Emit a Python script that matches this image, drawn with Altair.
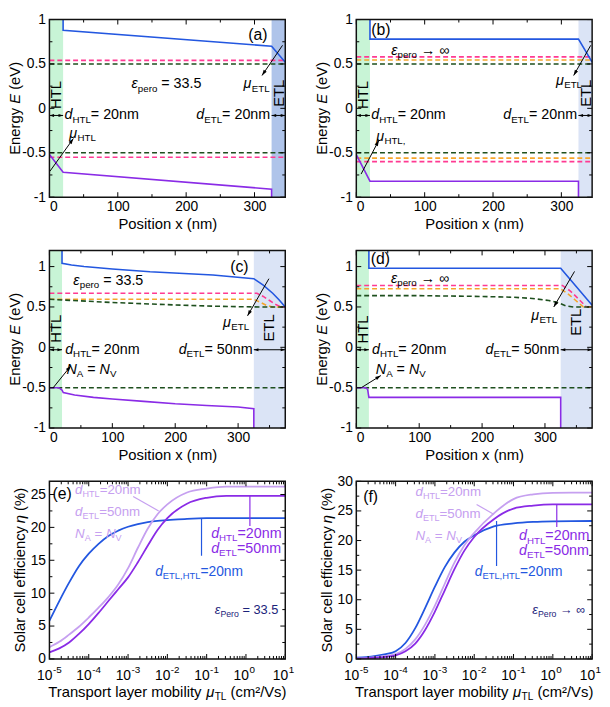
import math
import altair as alt

FONT = "Liberation Sans"
BLUE = "#2357e0"
PURPLE = "#8a2be6"
LPURPLE = "#c6a0f0"
PINK = "#ff3a92"
ORANGE = "#f5a52a"
GREEN = "#1e4f1e"
NAVY = "#1c237a"
HTL_FILL = "#c8f4d6"
ETL_FILL_A = "#afc4ea"
ETL_FILL = "#dbe4f6"

W = 239
H = 180
SUB = 0.68
ARROW = "M0,0L0.55,1.7L-0.55,1.7Z"

# ---------------- data ----------------
# (a) eps = 33.5, d_ETL = 20 nm
a_cb_x = [20, 20, 325, 345]
a_cb_y = [1.0, 0.88, 0.70, 0.52]
a_vb_x = [0, 20, 325, 325]
a_vb_y = [-0.52, -0.72, -0.91, -1.0]
a_pink = [0.54, -0.55]
a_green = [0.50, -0.50]

# (b) eps -> inf, d_ETL = 20 nm
b_cb_x = [20, 20, 325, 345]
b_cb_y = [1.0, 0.78, 0.78, 0.52]
b_vb_x = [0, 20, 325, 325]
b_vb_y = [-0.52, -0.82, -0.82, -1.0]
b_pink = [0.58, -0.60]
b_orange = [0.545, -0.56]
b_green = [0.50, -0.50]

# (c) eps = 33.5, d_ETL = 50 nm
c_cb_x = [20, 20, 35, 55, 100, 160, 260, 325, 340, 355, 365, 375]
c_cb_y = [1.2, 1.04, 1.02, 1.0, 0.97, 0.935, 0.895, 0.85, 0.77, 0.67, 0.59, 0.50]
c_vb_x = [0, 15, 20, 22, 40, 70, 100, 150, 200, 250, 300, 325, 325]
c_vb_y = [-0.5, -0.5, -0.53, -0.56, -0.59, -0.62, -0.64, -0.67, -0.70, -0.72, -0.74, -0.76, -1.0]
c_pink_x = [0, 330, 340, 350, 360, 368, 375]
c_pink_y = [0.67, 0.67, 0.63, 0.58, 0.53, 0.50, 0.50]
c_orange_x = [0, 325, 335, 345, 355, 375]
c_orange_y = [0.595, 0.595, 0.56, 0.52, 0.50, 0.50]
c_green_x = [0, 50, 100, 150, 200, 250, 300, 340, 375]
c_green_y = [0.595, 0.575, 0.555, 0.54, 0.525, 0.512, 0.503, 0.50, 0.50]
c_green_low = -0.50

# (d) eps -> inf, d_ETL = 50 nm
d_cb_x = [20, 20, 325, 375]
d_cb_y = [1.2, 0.98, 0.98, 0.52]
d_vb_x = [0, 15, 18, 20, 325, 325]
d_vb_y = [-0.5, -0.5, -0.52, -0.62, -0.62, -1.0]
d_pink_x = [0, 328, 340, 352, 366, 375]
d_pink_y = [0.765, 0.765, 0.70, 0.61, 0.50, 0.50]
d_orange_x = [0, 325, 337, 349, 361, 375]
d_orange_y = [0.725, 0.725, 0.66, 0.58, 0.50, 0.50]
d_green_x = [0, 100, 200, 250, 280, 306, 320, 333, 345, 375]
d_green_y = [0.64, 0.64, 0.63, 0.62, 0.605, 0.58, 0.555, 0.515, 0.50, 0.50]
d_green_low = -0.50

# (e), (f) efficiency vs transport-layer mobility
mu = [1e-5, 1.78e-5, 3.16e-5, 5.62e-5, 1e-4, 1.78e-4, 3.16e-4, 5.62e-4, 1e-3,
      1.78e-3, 3.16e-3, 5.62e-3, 1e-2, 3.16e-2, 1e-1, 3.16e-1, 1.0, 10.0]
e_blue = [5.8, 8.8, 11.6, 14.1, 16.0, 17.5, 18.7, 19.5, 20.1, 20.5, 20.8, 21.0, 21.1, 21.3, 21.4, 21.4, 21.4, 21.4]
e_light = [1.8, 2.6, 3.7, 4.9, 6.3, 7.8, 9.4, 11.3, 13.8, 16.9, 19.8, 22.0, 23.5, 25.3, 25.9, 26.2, 26.2, 26.2]
e_dark = [1.0, 1.6, 2.5, 3.8, 5.3, 7.0, 8.8, 10.6, 12.4, 14.7, 17.2, 19.6, 21.4, 23.6, 24.5, 24.8, 24.8, 24.8]
f_blue = [0.2, 0.3, 0.5, 0.8, 1.3, 2.7, 5.2, 8.6, 12.2, 15.5, 18.0, 19.8, 20.9, 22.4, 22.9, 23.15, 23.25, 23.3]
f_light = [0.1, 0.15, 0.3, 0.5, 0.8, 1.7, 3.3, 5.8, 9.0, 12.7, 16.3, 19.2, 21.3, 24.6, 27.0, 27.8, 28.05, 28.1]
f_dark = [0.05, 0.1, 0.2, 0.35, 0.6, 1.3, 2.6, 4.9, 8.0, 11.6, 15.2, 18.3, 20.6, 23.6, 25.4, 25.9, 26.1, 26.1]

log_major = [1e-5, 1e-4, 1e-3, 1e-2, 1e-1, 1.0, 10.0]
log_exp = ["-5", "-4", "-3", "-2", "-1", "0", "1"]
log_minor = [k * 10.0 ** d for d in range(-5, 1) for k in range(2, 10)]

pos_ticks = [0, 100, 200, 300]
energy_ticks = [-1, -0.5, 0, 0.5, 1]

# ---------------- helpers ----------------
AW = {' ': 278, '.': 278, ',': 278, '=': 584, '(': 333, ')': 333, '-': 333, '/': 278,
      '%': 889, '\u00b2': 333, 'A': 667, 'E': 667, 'H': 722, 'L': 556, 'N': 722, 'P': 667, 'T': 611,
      'V': 667, 'a': 556, 'b': 556, 'c': 500, 'd': 556, 'e': 556, 'f': 278, 'g': 556, 'i': 222,
      'l': 222, 'm': 833, 'n': 556, 'o': 556, 'p': 556, 'r': 333, 's': 500, 't': 278, 'x': 500,
      'y': 500, 'u': 556, 'v': 500, '\u03bc': 577, '\u03b5': 446, '\u03b7': 556, '\u2192': 1000,
      '\u221e': 713}
for _c in "0123456789":
    AW[_c] = 556


def tw(s, size):
    return sum(AW.get(c, 556) for c in s) * size / 1000.0


def rich(parts, xenc, yenc, datum, size, color, align, angle):
    sizes = [size * SUB if st in ("sub", "sup") else size for _, st in parts]
    widths = [tw(t, s) for (t, _), s in zip(parts, sizes)]
    total = sum(widths)
    off = {"left": 0.0, "center": -total / 2.0, "right": -total}[align]
    out = []
    for (t, st), s, w in zip(parts, sizes, widths):
        dy = 0.3 * size if st == "sub" else (-0.38 * size if st == "sup" else 0.0)
        lead = t[:len(t) - len(t.lstrip(" "))]
        shown = t.strip(" ")
        d = dict(datum)
        d["t"] = shown
        out.append(alt.Chart(alt.Data(values=[d])).mark_text(
            align="left", baseline="middle", dx=round(off + tw(lead, s), 2), dy=round(dy, 2),
            fontSize=round(s, 2), fontStyle="italic" if st == "i" else "normal", font=FONT,
            color=color, angle=angle
        ).encode(x=xenc, y=yenc, text="t:N"))
        off += w
    return out


def yaxis(vals):
    return alt.Axis(values=vals, labelExpr="'' + datum.value", ticks=False, tickSize=0, domain=False,
                    grid=False, labelFont=FONT, labelFontSize=14, labelColor="black", labelPadding=4, title=None)


def xaxis_pos():
    return alt.Axis(values=pos_ticks, labelExpr="'' + datum.value", ticks=False, tickSize=0,
                    domain=False, grid=False, labelFont=FONT, labelFontSize=14, labelColor="black",
                    labelPadding=3, title="Position x (nm)", titleFont=FONT, titleFontSize=15,
                    titleFontWeight="normal", titleColor="black", titlePadding=3)


class Panel:
    def __init__(self, xdom, ydom, xaxis, yaxis_, xlog=False):
        self.xdom, self.ydom, self.xlog = xdom, ydom, xlog
        self.xs = alt.Scale(type="log" if xlog else "linear", domain=xdom, nice=False, zero=False)
        self.ys = alt.Scale(domain=ydom, nice=False, zero=False)
        self.xaxis, self.yaxis = xaxis, yaxis_
        self.L = []

    def X(self):
        return alt.X("x:Q", scale=self.xs, axis=self.xaxis)

    def Y(self):
        return alt.Y("y:Q", scale=self.ys, axis=self.yaxis)

    def pix(self, x, y):
        if self.xlog:
            fx = (math.log10(x) - math.log10(self.xdom[0])) / (math.log10(self.xdom[1]) - math.log10(self.xdom[0]))
        else:
            fx = (x - self.xdom[0]) / (self.xdom[1] - self.xdom[0])
        fy = (y - self.ydom[0]) / (self.ydom[1] - self.ydom[0])
        return fx * W, (1 - fy) * H

    def band(self, x0, x1, color):
        self.L.append(alt.Chart(alt.Data(values=[{"x": x0, "x2": x1}])).mark_rect(color=color).encode(
            x=self.X(), x2="x2:Q", y=alt.value(0), y2=alt.value(H)))

    def line(self, xs, ys, color, width=1.6, dash=None, interp="linear"):
        vals = [{"x": a, "y": b, "o": i} for i, (a, b) in enumerate(zip(xs, ys))]
        kw = dict(color=color, strokeWidth=width, clip=True, interpolate=interp)
        if dash:
            kw["strokeDash"] = dash
        self.L.append(alt.Chart(alt.Data(values=vals)).mark_line(**kw).encode(
            x=self.X(), y=self.Y(), order="o:Q"))

    def arrow(self, x1, y1, x2, y2, heads=("end",), color="black", width=1.0, hs=45):
        self.line([x1, x2], [y1, y2], color, width)
        p1, p2 = self.pix(x1, y1), self.pix(x2, y2)
        for h in heads:
            if h == "end":
                tip, frm, pt = p2, p1, (x2, y2)
            else:
                tip, frm, pt = p1, p2, (x1, y1)
            ang = math.degrees(math.atan2(tip[0] - frm[0], -(tip[1] - frm[1]))) % 360
            self.L.append(alt.Chart(alt.Data(values=[{"x": pt[0], "y": pt[1]}])).mark_point(
                shape=ARROW, filled=True, size=hs, angle=round(ang, 2), color=color, opacity=1, strokeWidth=0
            ).encode(x=self.X(), y=self.Y()))

    def text(self, x, y, parts, size=14.5, color="black", align="left", angle=0):
        self.L += rich(parts, self.X(), self.Y(), {"x": x, "y": y}, size, color, align, angle)

    def ptext(self, px, py, parts, size=15, color="black", align="center", angle=0):
        self.L += rich(parts, alt.value(px), alt.value(py), {}, size, color, align, angle)

    def ticks(self, xmaj, xmin, ymaj, ymin):
        for vals, lg in ((xmaj, 5), (xmin, 3)):
            d = alt.Data(values=[{"x": v} for v in vals])
            self.L.append(alt.Chart(d).mark_rule(color="black", strokeWidth=1).encode(
                x=self.X(), y=alt.value(H), y2=alt.value(H - lg)))
            self.L.append(alt.Chart(d).mark_rule(color="black", strokeWidth=1).encode(
                x=self.X(), y=alt.value(0), y2=alt.value(lg)))
        for vals, lg in ((ymaj, 5), (ymin, 3)):
            d = alt.Data(values=[{"y": v} for v in vals])
            self.L.append(alt.Chart(d).mark_rule(color="black", strokeWidth=1).encode(
                y=self.Y(), x=alt.value(0), x2=alt.value(lg)))
            self.L.append(alt.Chart(d).mark_rule(color="black", strokeWidth=1).encode(
                y=self.Y(), x=alt.value(W), x2=alt.value(W - lg)))

    def chart(self):
        frame = alt.Chart(alt.Data(values=[{"f": 1}])).mark_rect(
            filled=False, stroke="#111111", strokeWidth=1.5
        ).encode(x=alt.value(0), x2=alt.value(W), y=alt.value(0), y2=alt.value(H))
        return alt.layer(*self.L, frame).properties(width=W, height=H)


DASH = [5, 3]
Y_E = [("Energy ", "n"), ("E", "i"), (" (eV)", "n")]
Y_ETA = [("Solar cell efficiency ", "n"), ("\u03b7", "i"), (" (%)", "n")]
X_MU = [("Transport layer mobility ", "n"), ("\u03bc", "i"), ("TL", "sub"), (" (cm\u00b2/Vs)", "n")]


def energy_panel(xmax, ydom):
    p = Panel([0, xmax], ydom, xaxis_pos(), yaxis(energy_ticks))
    p.ptext(-35, H / 2, Y_E, size=15, angle=270)
    return p


def dual_arrow(p, x0, x1, y):
    p.arrow(x0, y, x1, y, heads=("start", "end"), hs=30)


# ---------------- (a) ----------------
pa = energy_panel(345, [-1, 1])
pa.band(0, 20, HTL_FILL)
pa.band(325, 345, ETL_FILL_A)
for v in a_pink:
    pa.line([0, 345], [v, v], PINK, dash=DASH)
for v in a_green:
    pa.line([0, 345], [v, v], GREEN, dash=DASH)
pa.line(a_cb_x, a_cb_y, BLUE)
pa.line(a_vb_x, a_vb_y, PURPLE)
pa.text(305, 0.82, [("(a)", "n")], size=16, align="center")
pa.text(10, 0.15, [("HTL", "n")], size=15, align="center", angle=270)
pa.text(336, 0.17, [("ETL", "n")], size=15, align="center", angle=270)
pa.text(120, 0.27, [("\u03b5", "i"), ("pero", "sub"), (" = 33.5", "n")])
pa.text(284, 0.27, [("\u03bc", "i"), ("ETL", "sub")])
pa.arrow(341, 0.71, 311, 0.37)
pa.text(29, -0.29, [("\u03bc", "i"), ("HTL", "sub")])
pa.arrow(0.5, -0.71, 35, -0.34)
pa.text(22, -0.08, [("d", "i"), ("HTL", "sub"), ("= 20nm", "n")])
dual_arrow(pa, 0, 20, -0.08)
pa.text(323, -0.08, [("d", "i"), ("ETL", "sub"), ("= 20nm", "n")], align="right")
dual_arrow(pa, 325, 345, -0.08)
pa.ticks(pos_ticks, [50, 150, 250], energy_ticks, [-0.75, -0.25, 0.25, 0.75])

# ---------------- (b) ----------------
pb = energy_panel(345, [-1, 1])
pb.band(0, 20, HTL_FILL)
pb.band(325, 345, ETL_FILL)
for v in b_pink:
    pb.line([0, 345], [v, v], PINK, dash=DASH)
for v in b_orange:
    pb.line([0, 345], [v, v], ORANGE, dash=DASH)
for v in b_green:
    pb.line([0, 345], [v, v], GREEN, dash=DASH)
pb.line(b_cb_x, b_cb_y, BLUE)
pb.line(b_vb_x, b_vb_y, PURPLE)
pb.text(22, 0.88, [("(b)", "n")], size=16)
pb.text(10, 0.15, [("HTL", "n")], size=15, align="center", angle=270)
pb.text(336, 0.17, [("ETL", "n")], size=15, align="center", angle=270)
pb.text(51, 0.65, [("\u03b5", "i"), ("pero", "sub"), (" \u2192 \u221e", "n")])
pb.text(292, 0.31, [("\u03bc", "i"), ("ETL", "sub")])
pb.arrow(343, 0.71, 318, 0.37)
pb.text(29, -0.32, [("\u03bc", "i"), ("HTL,", "sub")])
pb.arrow(7, -0.74, 33, -0.36)
pb.text(22, -0.08, [("d", "i"), ("HTL", "sub"), ("= 20nm", "n")])
dual_arrow(pb, 0, 20, -0.08)
pb.text(323, -0.08, [("d", "i"), ("ETL", "sub"), ("= 20nm", "n")], align="right")
dual_arrow(pb, 325, 345, -0.08)
pb.ticks(pos_ticks, [50, 150, 250], energy_ticks, [-0.75, -0.25, 0.25, 0.75])

# ---------------- (c) ----------------
pc = energy_panel(375, [-1, 1.2])
pc.band(0, 20, HTL_FILL)
pc.band(325, 375, ETL_FILL)
pc.line(c_pink_x, c_pink_y, PINK, dash=DASH)
pc.line(c_orange_x, c_orange_y, ORANGE, dash=DASH)
pc.line(c_green_x, c_green_y, GREEN, dash=DASH)
pc.line([0, 375], [c_green_low, c_green_low], GREEN, dash=DASH)
pc.line(c_cb_x, c_cb_y, BLUE)
pc.line(c_vb_x, c_vb_y, PURPLE)
pc.text(302, 1.0, [("(c)", "n")], size=16, align="center")
pc.text(10, 0.23, [("HTL", "n")], size=15, align="center", angle=270)
pc.text(350, 0.24, [("ETL", "n")], size=15, align="center", angle=270)
pc.text(38, 0.82, [("\u03b5", "i"), ("pero", "sub"), (" = 33.5", "n")])
pc.text(276, 0.30, [("\u03bc", "i"), ("ETL", "sub")])
pc.arrow(349, 0.85, 315, 0.39)
pc.text(25, -0.03, [("d", "i"), ("HTL", "sub"), ("= 20nm", "n")])
dual_arrow(pc, 0, 20, -0.03)
pc.text(323, -0.03, [("d", "i"), ("ETL", "sub"), ("= 50nm", "n")], align="right")
dual_arrow(pc, 325, 375, -0.03)
pc.text(27, -0.28, [("N", "i"), ("A", "sub"), (" = ", "n"), ("N", "i"), ("V", "sub")])
pc.arrow(6, -0.5, 34, -0.23)
pc.ticks(pos_ticks, [50, 150, 250, 350], energy_ticks, [-0.75, -0.25, 0.25, 0.75])

# ---------------- (d) ----------------
pd_ = energy_panel(375, [-1, 1.2])
pd_.band(0, 20, HTL_FILL)
pd_.band(325, 375, ETL_FILL)
pd_.line(d_pink_x, d_pink_y, PINK, dash=DASH)
pd_.line(d_orange_x, d_orange_y, ORANGE, dash=DASH)
pd_.line(d_green_x, d_green_y, GREEN, dash=DASH)
pd_.line([0, 375], [d_green_low, d_green_low], GREEN, dash=DASH)
pd_.line(d_cb_x, d_cb_y, BLUE)
pd_.line(d_vb_x, d_vb_y, PURPLE)
pd_.text(23, 1.09, [("(d)", "n")], size=16)
pd_.text(10, 0.22, [("HTL", "n")], size=15, align="center", angle=270)
pd_.text(350, 0.31, [("ETL", "n")], size=15, align="center", angle=270)
pd_.text(55, 0.85, [("\u03b5", "i"), ("pero", "sub"), (" \u2192 \u221e", "n")])
pd_.text(278, 0.39, [("\u03bc", "i"), ("ETL", "sub")])
pd_.arrow(347, 0.94, 314, 0.50)
pd_.text(25, -0.03, [("d", "i"), ("HTL", "sub"), ("= 20nm", "n")])
dual_arrow(pd_, 0, 20, -0.03)
pd_.text(323, -0.03, [("d", "i"), ("ETL", "sub"), ("= 50nm", "n")], align="right")
dual_arrow(pd_, 325, 375, -0.03)
pd_.text(31, -0.28, [("N", "i"), ("A", "sub"), (" = ", "n"), ("N", "i"), ("V", "sub")])
pd_.arrow(8, -0.5, 39, -0.35)
pd_.ticks(pos_ticks, [50, 150, 250, 350], energy_ticks, [-0.75, -0.25, 0.25, 0.75])


# ---------------- (e), (f) ----------------
def eff_panel(ymax, ymaj):
    p = Panel([1e-5, 10], [0, ymax], None, yaxis(ymaj), xlog=True)
    p.ptext(-30, H / 2, Y_ETA, size=15, angle=270)
    p.ptext(W / 2, H + 34, X_MU, size=15)
    lab = alt.Data(values=[{"x": v, "t": "10", "e": e} for v, e in zip(log_major, log_exp)])
    p.L.append(alt.Chart(lab).mark_text(align="right", baseline="middle", dx=3, fontSize=14, font=FONT,
                                        color="black").encode(x=p.X(), y=alt.value(H + 17), text="t:N"))
    p.L.append(alt.Chart(lab).mark_text(align="left", baseline="middle", dx=3.5, fontSize=10, font=FONT,
                                        color="black").encode(x=p.X(), y=alt.value(H + 11), text="e:N"))
    return p


DH = [("d", "i"), ("HTL", "sub"), ("=20nm", "n")]
DE = [("d", "i"), ("ETL", "sub"), ("=50nm", "n")]
NANV = [("N", "i"), ("A", "sub"), (" = ", "n"), ("N", "i"), ("V", "sub")]
DEH = [("d", "i"), ("ETL,HTL", "sub"), ("=20nm", "n")]

e_yt = [0, 5, 10, 15, 20, 25]
pe = eff_panel(27, e_yt)
pe.line(mu, e_blue, BLUE, width=1.8, interp="monotone")
pe.line(mu, e_light, LPURPLE, width=1.8, interp="monotone")
pe.line(mu, e_dark, PURPLE, width=1.8, interp="monotone")
pe.text(1.2e-5, 25.0, [("(e)", "n")], size=16)
pe.text(4.5e-5, 25.7, DH, size=13.5, color=LPURPLE)
pe.text(4.5e-5, 22.4, DE, size=13.5, color=LPURPLE)
pe.text(4.5e-5, 19.0, NANV, size=13.5, color=LPURPLE)
pe.line([1.35e-3, 6e-3], [24.7, 22.5], LPURPLE, width=1.2)
pe.line([1.26, 1.26], [24.8, 20.2], PURPLE, width=1.2)
pe.text(0.13, 19.0, DH, size=14.5, color=PURPLE)
pe.text(0.13, 16.7, DE, size=14.5, color=PURPLE)
pe.line([0.074, 0.074], [21.4, 15.7], BLUE, width=1.2)
pe.text(4.9e-3, 13.2, DEH, size=14, color=BLUE)
pe.text(0.16, 7.4, [("\u03b5", "i"), ("Pero", "sub"), (" = 33.5", "n")], size=13, color=NAVY)
pe.ticks(log_major, log_minor, e_yt, [2.5, 7.5, 12.5, 17.5, 22.5])

f_yt = [0, 5, 10, 15, 20, 25, 30]
pf = eff_panel(30, f_yt)
pf.line(mu, f_blue, BLUE, width=1.8, interp="monotone")
pf.line(mu, f_light, LPURPLE, width=1.8, interp="monotone")
pf.line(mu, f_dark, PURPLE, width=1.8, interp="monotone")
pf.text(1.5e-5, 27.3, [("(f)", "n")], size=16)
pf.text(3.2e-4, 28.2, DH, size=13.5, color=LPURPLE)
pf.text(3.2e-4, 24.5, DE, size=13.5, color=LPURPLE)
pf.text(3.2e-4, 20.7, NANV, size=13.5, color=LPURPLE)
pf.line([1.15e-2, 0.032], [26.1, 24.4], LPURPLE, width=1.2)
pf.line([1.26, 1.26], [26.1, 22.3], PURPLE, width=1.2)
pf.text(0.138, 20.7, DH, size=14.5, color=PURPLE)
pf.text(0.138, 18.2, DE, size=14.5, color=PURPLE)
pf.line([0.037, 0.037], [23.3, 15.7], BLUE, width=1.2)
pf.text(0.0103, 14.7, DEH, size=14, color=BLUE)
pf.text(0.3, 8.2, [("\u03b5", "i"), ("Pero", "sub"), (" \u2192 \u221e", "n")], size=13, color=NAVY)
pf.ticks(log_major, log_minor, f_yt, [2.5, 7.5, 12.5, 17.5, 22.5, 27.5])

chart = alt.concat(
    pa.chart(), pb.chart(), pc.chart(), pd_.chart(), pe.chart(), pf.chart(),
    columns=2, spacing={"row": 54, "column": 72}, bounds="flush"
).properties(
    padding={"left": 0, "top": 0, "right": 0, "bottom": 0}
).configure(
    background="white"
).configure_view(
    strokeWidth=0
)

chart.save("out.html", embed_options={"renderer": "svg", "actions": False})
